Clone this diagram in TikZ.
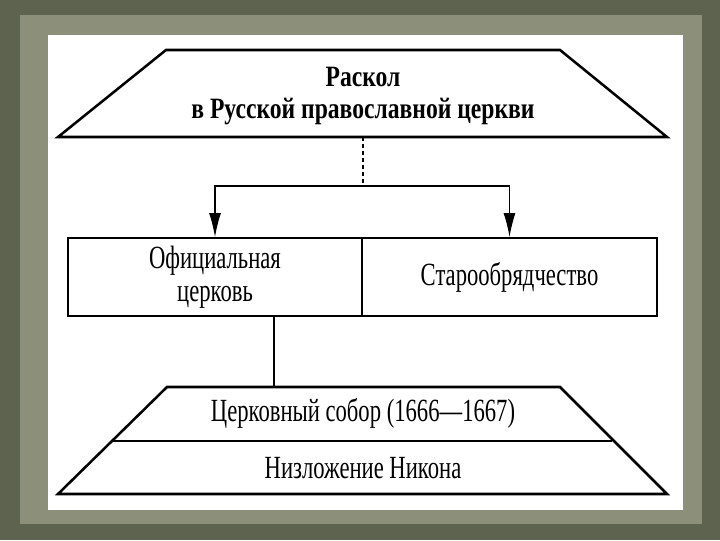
\documentclass[tikz,border=0pt]{standalone}
\usepackage{fontspec}
\setmainfont{Liberation Serif}
\newfontfamily\narrowfont[FakeStretch=0.7]{Liberation Serif}
\newfontfamily\titlefont[FakeStretch=0.8]{Liberation Serif}
\usetikzlibrary{arrows.meta}
\definecolor{olivedark}{HTML}{5E634F}
\definecolor{olivelight}{HTML}{8C8F7A}
\begin{document}
\begin{tikzpicture}[x=0.025cm, y=-0.025cm,
    frame/.style={line width=1.8pt, line join=miter},
    cell/.style={draw, line width=1.4pt, minimum width=7.35cm, minimum height=1.95cm,
                 align=center, font=\narrowfont\fontsize{23pt}{23.5pt}\selectfont},
    label/.style={align=center, font=\narrowfont\fontsize{23pt}{24pt}\selectfont},
    link/.style={line width=0.8pt},
    tip/.style={-{Latex[length=0.6cm, width=0.3cm]}}]
    % фон
    \fill[olivedark] (0, 0) rectangle (720, 540);
    \fill[olivelight] (20, 15) rectangle (702, 524);
    \fill[white] (48, 35) rectangle (683, 510);
    \useasboundingbox (0, 0) rectangle (720, 540);

    % Раскол
    \draw[frame] (58, 137) -- (166, 50) -- (560, 50) -- (667, 137) -- cycle;
    \node[align=center, font=\titlefont\bfseries\fontsize{21pt}{22.7pt}\selectfont] (title) at (363, 96)
        {Раскол\\в Русской православной церкви};
    \coordinate (title-b) at (363, 137);
    \coordinate (fork) at (363, 186);

    % две ветви
    \node[cell] (official) at (215, 277) {Официальная\\церковь};
    \node[cell] (oldbel) at (509.5, 277) {Старообрядчество};
    \draw[link, dashed, dash pattern=on 3pt off 2pt] (title-b) -- (fork);
    \draw[link, tip] (fork) -| (official.north);
    \draw[link, tip] (fork) -| (oldbel.north);

    % собор
    \coordinate (council-t) at (274, 387);
    \draw[link] (official.south -| council-t) -- (council-t);
    \draw[frame] (58, 494) -- (167, 387) -- (560, 387) -- (667, 494) -- cycle;
    \draw[frame] (113, 441) -- (612, 441);
    \node[label] (council) at (363, 413) {Церковный собор (1666—1667)};
    \node[label] (deposition) at (363, 468) {Низложение Никона};
\end{tikzpicture}
\end{document}
